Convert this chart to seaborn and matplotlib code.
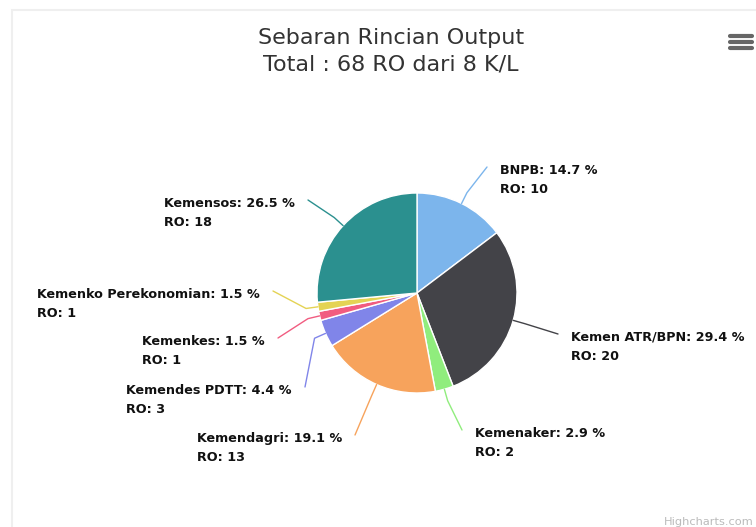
import numpy as np
import matplotlib
matplotlib.use("Agg")
import matplotlib.pyplot as plt
from matplotlib.patches import Rectangle
import seaborn as sns

# data
labels = ["BNPB", "Kemen ATR/BPN", "Kemenaker", "Kemendagri",
          "Kemendes PDTT", "Kemenkes", "Kemenko Perekonomian", "Kemensos"]
ro_counts = [10, 20, 2, 13, 3, 1, 1, 18]
colors = ["#7cb5ec", "#434348", "#90ed7d", "#f7a35c",
          "#8085e9", "#f15c80", "#e4d354", "#2b908f"]

# where each label's connector ends (pixels, from top-left) and which side it sits on
label_anchor = [(487, 167), (558, 334), (462, 430), (355, 435),
                (305, 387), (278, 338), (273, 291), (308, 200)]
label_side = ["right", "right", "right", "left", "left", "left", "left", "left"]

W, H = 756, 527
cx, cy, radius = 417, 293, 100

sns.set_style("white")
plt.rcParams["font.family"] = ["DejaVu Sans"]

fig = plt.figure(figsize=(W / 100, H / 100), dpi=100)
ax = fig.add_axes([0, 0, 1, 1])


def fy(y):
    return H - y


# faint chart frame
ax.add_patch(Rectangle((12, fy(H + 20)), W + 20, H + 10, fill=False,
                       edgecolor="#efefef", lw=1.5))

wedges, _ = ax.pie(ro_counts, colors=colors, startangle=90, counterclock=False,
                   center=(cx, fy(cy)), radius=radius, frame=True,
                   wedgeprops=dict(edgecolor="white", linewidth=1))
ax.set_xlim(0, W)
ax.set_ylim(0, H)
ax.set_aspect("equal")
ax.axis("off")

total = sum(ro_counts)
for w, name, n, col, (axx, ayy), side in zip(wedges, labels, ro_counts, colors,
                                             label_anchor, label_side):
    mid = np.deg2rad((w.theta1 + w.theta2) / 2)
    x0 = cx + radius * np.cos(mid)
    y0 = fy(cy) + radius * np.sin(mid)
    xm = cx + (radius + 12) * np.cos(mid)
    ym = fy(cy) + (radius + 12) * np.sin(mid)
    ax.plot([x0, xm, axx], [y0, ym, fy(ayy)], color=col, lw=1, solid_capstyle="round")
    pct = n / total * 100
    txt = f"{name}: {pct:.1f} %\nRO: {n}"
    top = fy(ayy + 2) + 5
    if side == "right":
        ax.text(axx + 13, top, txt, ha="left", va="top", multialignment="left",
                fontsize=9.2, fontweight="bold", color="#111111", linespacing=1.58)
    else:
        ax.text(axx - 13, top, txt, ha="right", va="top", multialignment="left",
                fontsize=9.2, fontweight="bold", color="#111111", linespacing=1.58)

# title
ax.text(391, fy(38), "Sebaran Rincian Output", ha="center", va="center",
        fontsize=16, color="#333333")
ax.text(391, fy(65), "Total : 68 RO dari 8 K/L", ha="center", va="center",
        fontsize=16, color="#333333")

# context menu icon
for yy in (36, 42, 48):
    ax.plot([730, 752], [fy(yy), fy(yy)], color="#666666", lw=3, solid_capstyle="round")

# credits
ax.text(754, fy(522), "Highcharts.com", ha="right", va="center",
        fontsize=8.2, color="#bbbbbb")

fig.savefig("out.png", dpi=100)
